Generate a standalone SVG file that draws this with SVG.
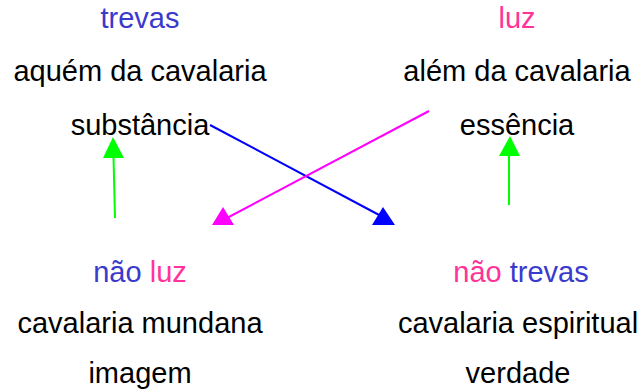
<svg xmlns="http://www.w3.org/2000/svg" width="641" height="392" viewBox="0 0 641 392">
<style>
text{font-family:"Liberation Sans",Arial,sans-serif;font-size:29px;text-anchor:middle;fill:#000}
.b{fill:#3a3acc}
.p{fill:#ff3399}
.ln{fill:none;stroke-width:2}
</style>
<rect width="641" height="392" fill="#fff"/>
<g id="trevas">
<text x="140" y="28" class="b">trevas</text>
<text x="140" y="81">aquém da cavalaria</text>
<text x="140" y="135">substância</text>
</g>
<g id="luz">
<text x="517" y="28" class="p">luz</text>
<text x="517" y="81">além da cavalaria</text>
<text x="517" y="135">essência</text>
</g>
<g id="nao-luz">
<text x="140" y="282"><tspan class="b">não</tspan> <tspan class="p">luz</tspan></text>
<text x="140" y="333">cavalaria mundana</text>
<text x="140" y="383">imagem</text>
</g>
<g id="nao-trevas">
<text x="521" y="282"><tspan class="p">não</tspan> <tspan class="b">trevas</tspan></text>
<text x="518" y="333">cavalaria espiritual</text>
<text x="518" y="383">verdade</text>
</g>
<g id="connectors">
<line class="ln" x1="115" y1="218" x2="113.5" y2="157" stroke="#00ff00"/>
<polygon points="113,137 103,158 124,158" fill="#00ff00"/>
<line class="ln" x1="509" y1="205" x2="509" y2="156" stroke="#00ff00"/>
<polygon points="510,136 499,156 520,156" fill="#00ff00"/>
<line class="ln" x1="210" y1="125" x2="381" y2="216" stroke="#0000ff"/>
<polygon points="383,207 372,225 395,225" fill="#0000ff"/>
<line class="ln" x1="429" y1="111" x2="227" y2="218" stroke="#ff00ff"/>
<polygon points="223,207 212,225 234,225" fill="#ff00ff"/>
</g>
</svg>
